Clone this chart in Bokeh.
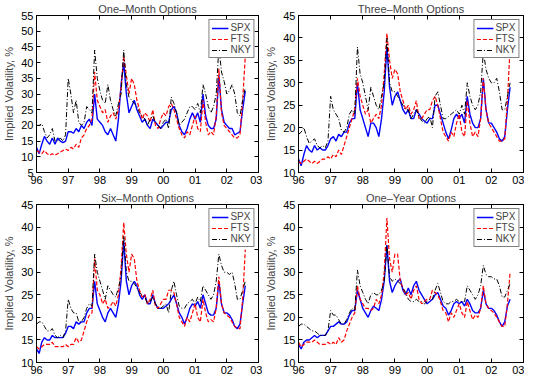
from bokeh.plotting import figure
from bokeh.layouts import column, row
from bokeh.models import FixedTicker, Range1d, Legend, LegendItem, LinearAxis
from bokeh.embed import file_html
from bokeh.resources import INLINE

# Monthly sampling dates (decimal years, Jan 1996 .. Aug 2002)
dates = [1996 + k / 12 for k in range(80)]

# ---------- One-Month Options ----------
spx_1m = [13, 11, 14, 16.5, 15, 14, 16, 14, 16, 15, 14.5, 15,
          18, 18, 17.5, 19, 18, 20, 19, 21, 22, 20, 30, 22,
          21, 20, 18, 17, 19, 17, 15, 22, 33, 40, 30, 24,
          26, 28, 25, 23, 21, 22, 20, 19, 22, 21, 20, 19,
          20, 21, 21, 25, 26, 24, 20, 18, 17, 19, 22, 24,
          22, 24, 21, 30, 23, 20, 19, 19, 22, 36, 25, 21,
          20, 19, 19, 17, 17.5, 18, 25, 31]
fts_1m = [12, 11.5, 11, 12, 11, 10.5, 11, 10.5, 11, 11.5, 12, 12.5,
          12, 13, 12.5, 14, 13, 16, 17, 19, 20, 22, 37, 28,
          26, 24, 25, 21, 23, 24, 22, 25, 32, 42, 36, 30,
          35, 33, 28, 25, 22, 24, 23, 21, 25, 20, 19, 22,
          24, 23, 26, 27, 25, 22, 19, 17, 16, 18, 17, 20,
          23, 19, 18, 28, 21, 17, 18, 17, 23, 38, 24, 20,
          19, 18, 17, 16, 16, 17, 28, 42]
nky_1m = [20, 20, 20.5, 18, 16, 17, 19, 15, 15, 16, 15, 17,
          35, 30, 24, 28, 21, 20, 21, 26, 25, 24, 44, 35,
          31, 28, 27, 33, 28, 25, 23, 27, 30, 44, 33, 29,
          28, 27, 26, 24, 23, 22, 20, 22, 23, 21, 20, 19,
          21, 22, 19, 29, 27, 24, 20, 21, 22, 24, 26, 26,
          25, 27, 24, 33, 30, 26, 24, 26, 30, 45, 37, 34,
          30, 31, 33, 30, 24, 23, 28, 32]

# ---------- Three-Month Options ----------
spx_3m = [13, 11.5, 14, 16, 15, 14.5, 16, 15, 15.5, 15, 15, 16,
          17.5, 18, 17, 18.5, 18, 19, 19, 21, 22, 22, 30, 24,
          22, 20, 18, 21, 21, 20, 18, 22, 28, 38, 29, 25,
          27, 28, 26, 24, 23, 24, 22, 22, 24, 23, 22, 21.5,
          21, 22, 22, 25, 25, 23, 21, 19, 17.5, 19.5, 22, 23,
          22, 23, 21, 27, 23, 21, 20, 20, 22, 31, 24, 21,
          21, 20, 19, 17.5, 17, 18, 24, 29]
fts_3m = [12.5, 12, 12.5, 13, 12.5, 12, 12.5, 12, 12.5, 13, 13, 13.5,
          13, 14, 13.5, 15, 14, 16, 18, 20, 22, 24, 31, 27,
          25, 23, 24, 21, 22, 23, 22, 25, 32, 41, 35, 31,
          33, 32, 28, 26, 24, 25, 23, 24, 26, 22, 22, 23,
          24, 24, 26, 27, 25, 22, 19, 18, 17, 19, 18, 21,
          23, 19, 18, 26, 21, 18, 19, 18, 22, 31, 24, 21,
          20, 19, 18, 17, 17, 17.5, 26, 38]
nky_3m = [18.5, 19, 20, 18, 16.5, 17, 17.5, 16, 15.5, 16, 15.5, 17,
          27, 24, 23, 22, 19.5, 19, 20, 23, 24, 23, 38, 32,
          30, 27, 24, 29, 27, 25, 24, 27, 30, 40, 30, 28,
          28, 27, 26, 25, 24, 24, 22, 23, 24, 22.5, 21.5, 21,
          22, 22.5, 20, 27, 28, 25, 22, 22, 22.5, 23, 23.5, 24,
          23, 25, 23, 30, 27, 25, 24, 25, 28, 37, 33, 31,
          30, 30, 31, 28, 24, 24, 27, 30]

# ---------- Six-Month Options ----------
spx_6m = [13, 12, 14.5, 15.5, 15, 15, 16, 15.5, 15.5, 15.5, 15.5, 16.5,
          18, 18, 17.5, 19, 18.5, 19, 19, 21, 22, 22, 28, 23,
          21.5, 20, 19, 21, 22, 21, 20, 23, 28, 37, 28, 25,
          27, 28, 27, 25, 24, 25, 23, 23, 25, 23, 22, 22,
          22, 22.5, 23, 24, 25, 23, 21, 20, 18.5, 20, 22, 23,
          22.5, 23.5, 22, 25, 23, 21, 20.5, 20.5, 22, 28, 23, 21,
          21, 20.5, 19.5, 18, 17.5, 18.5, 23, 27]
fts_6m = [13.5, 13, 13.5, 14, 14, 14, 14.5, 13.5, 13.5, 13.5, 13.5, 14,
          13.5, 14, 14, 15.5, 14.5, 15, 17, 19, 20.5, 21, 33, 26,
          25, 23, 24, 22, 22.5, 23.5, 22.5, 25, 31, 41, 34, 30,
          34, 33, 28, 26, 24.5, 25, 23, 24, 26, 22.5, 22, 23,
          24, 24, 26, 26, 25.5, 23, 20, 19, 18, 20, 19, 21,
          23, 20, 19, 24, 21, 19, 19.5, 19, 22, 29, 23, 21,
          20.5, 20, 19, 18, 17.5, 17.5, 24, 35]
nky_6m = [18.5, 19, 19, 18, 17, 17, 17.5, 16, 15.5, 16, 15.5, 17,
          24, 22, 21, 21, 19, 19, 20, 22, 23, 22.5, 34, 30,
          28, 26, 24, 27, 26, 25, 24.5, 26.5, 29, 38, 30, 28,
          28, 27.5, 26.5, 25.5, 25, 24.5, 23, 23.5, 24.5, 23, 22, 22,
          22.5, 23, 21, 26, 28, 25, 22.5, 22, 22, 23, 23.5, 24,
          23, 24.5, 23.5, 27, 26, 25, 24, 25, 28, 34, 31.5, 30,
          30, 29.5, 30, 27.5, 24, 24, 26, 28]

# ---------- One-Year Options ----------
spx_1y = [14, 13, 14.5, 15, 15, 15.5, 16, 15.5, 16, 16, 16, 17,
          18, 18, 18.5, 19, 18.5, 18.5, 19, 20.5, 21.5, 21.5, 26, 24,
          22, 21, 20, 21.5, 22.5, 22, 21.5, 24, 28, 36, 28, 25.5,
          27, 28, 28.5, 26, 25, 26.5, 25, 27, 28, 26, 25, 24,
          23, 23.5, 24, 25, 25.5, 24, 22.5, 22, 20.5, 21.5, 23, 23.5,
          23, 23.5, 22.5, 24, 23, 21.5, 21, 21, 22, 26, 23, 22,
          22, 21.5, 20.5, 19, 18, 19, 22.5, 24]
fts_1y = [14.5, 13.5, 14, 14.5, 14.5, 14.5, 15, 14.5, 14, 14, 14, 14.5,
          14, 14.5, 14, 15.5, 14.5, 15, 17, 18.5, 20, 21, 27, 24,
          23, 22, 22, 21.5, 22, 24, 23, 25, 30, 42, 33, 30,
          34, 34, 28, 26.5, 25, 25.5, 24, 26, 27, 24, 23, 23.5,
          24, 24, 26, 25.5, 25, 23.5, 21.5, 21, 19, 21, 20, 21.5,
          23, 21, 20, 23.5, 21.5, 19.5, 20.5, 20, 22, 27, 23, 22,
          21.5, 21, 20, 19, 18, 18, 23, 30]
nky_1y = [18, 18.5, 18.5, 18, 17.5, 17, 17, 16.5, 16, 16, 16, 17,
          21.5, 20.5, 20.5, 19.5, 18.5, 18.5, 19.5, 21, 22, 21.5, 30.5, 27,
          25.5, 24, 23, 25, 25.5, 25, 25, 26, 28, 36, 29, 28,
          28.5, 28, 27.5, 26.5, 25.5, 24, 23.5, 23.5, 24, 23.5, 23.5, 23,
          23.5, 24, 24, 26, 27.5, 25.5, 23.5, 23, 23, 23.5, 23.5, 24,
          23.5, 23.5, 23.5, 27, 26, 25, 24, 25, 27, 31.5, 29.5, 29,
          29, 28.5, 28.5, 27, 24.5, 24.5, 26, 27.5]

titles = ["One\u2013Month Options", "Three\u2013Month Options",
          "Six\u2013Month Options", "One\u2013Year Options"]
series_names = ["SPX", "FTS", "NKY"]
year_ticks = [1996, 1997, 1998, 1999, 2000, 2001, 2002, 2003]
year_labels = ["96", "97", "98", "99", "00", "01", "02", "03"]
y_limits = [(5, 55), (10, 45), (10, 45), (10, 45)]
y_ticks = [[5, 10, 15, 20, 25, 30, 35, 40, 45, 50, 55],
           [10, 15, 20, 25, 30, 35, 40, 45],
           [10, 15, 20, 25, 30, 35, 40, 45],
           [10, 15, 20, 25, 30, 35, 40, 45]]
panel_data = [(spx_1m, fts_1m, nky_1m), (spx_3m, fts_3m, nky_3m),
              (spx_6m, fts_6m, nky_6m), (spx_1y, fts_1y, nky_1y)]

FONT = "Liberation Sans"
colors = ["#0000ff", "#ff0000", "#000000"]
dashes = ["solid", "4 2", "5 2 1 2"]
widths = [1.4, 1.2, 1.0]


def style_axis(ax, labels=True):
    ax.major_tick_in = 4
    ax.major_tick_out = 0
    ax.minor_tick_line_color = None
    ax.axis_line_color = "black"
    ax.major_tick_line_color = "black"
    ax.major_label_text_font = FONT
    if labels:
        ax.major_label_text_color = "black"
        ax.major_label_text_font_size = "11px"
        ax.major_label_standoff = 3
    else:
        ax.major_label_text_color = None
        ax.major_label_text_font_size = "1px"
        ax.major_label_standoff = 0


def make_panel(i, top_row, left_col):
    h = 188 if top_row else 189
    w = 262
    p = figure(width=w, height=h, output_backend="svg", toolbar_location=None,
               x_range=Range1d(1996, 2003), y_range=Range1d(*y_limits[i]),
               title=titles[i])
    p.min_border_left = 30 if left_col else 34
    p.min_border_right = 4 if left_col else 1
    p.min_border_top = 14 if top_row else 16
    p.min_border_bottom = 16 if top_row else 15
    p.outline_line_color = "black"
    p.outline_line_width = 1
    p.outline_line_alpha = 1
    p.grid.grid_line_color = None
    p.background_fill_color = "white"
    p.border_fill_color = "white"
    p.title.text_font = FONT
    p.title.text_font_size = "11px"
    p.title.text_font_style = "normal"
    p.title.align = "center"
    p.title.offset = 0
    p.title.standoff = 1

    p.xaxis.ticker = FixedTicker(ticks=year_ticks)
    p.xaxis.major_label_overrides = {t: l for t, l in zip(year_ticks, year_labels)}
    p.yaxis.ticker = FixedTicker(ticks=y_ticks[i])
    p.yaxis.axis_label = "Implied Volatility, %"
    p.yaxis.axis_label_text_font = FONT
    p.yaxis.axis_label_text_font_size = "11px"
    p.yaxis.axis_label_text_font_style = "normal"
    p.yaxis.axis_label_standoff = 3
    style_axis(p.xaxis[0])
    style_axis(p.yaxis[0])

    top_ax = LinearAxis(ticker=FixedTicker(ticks=year_ticks))
    right_ax = LinearAxis(ticker=FixedTicker(ticks=y_ticks[i]))
    style_axis(top_ax, False)
    style_axis(right_ax, False)
    p.add_layout(top_ax, "above")
    p.add_layout(right_ax, "right")

    items = []
    for k, ys in enumerate(panel_data[i]):
        r = p.line(dates, ys, line_color=colors[k], line_width=widths[k],
                   line_dash=dashes[k])
        items.append(LegendItem(label=series_names[k], renderers=[r]))
    leg = Legend(items=items, location="top_right")
    leg.label_text_font = FONT
    leg.label_text_font_size = "10px"
    leg.label_height = 8
    leg.label_standoff = 2
    leg.glyph_width = 17
    leg.glyph_height = 8
    leg.spacing = 0
    leg.padding = 2
    leg.margin = 4
    leg.border_line_color = "black"
    leg.border_line_width = 1
    leg.background_fill_color = "white"
    leg.background_fill_alpha = 1
    p.add_layout(leg, "center")
    return p


p1 = make_panel(0, True, True)
p2 = make_panel(1, True, False)
p3 = make_panel(2, False, True)
p4 = make_panel(3, False, False)

layout = column(row(p1, p2, spacing=0), row(p3, p4, spacing=0), spacing=0)

open("out.html", "w").write(file_html(layout, INLINE))
